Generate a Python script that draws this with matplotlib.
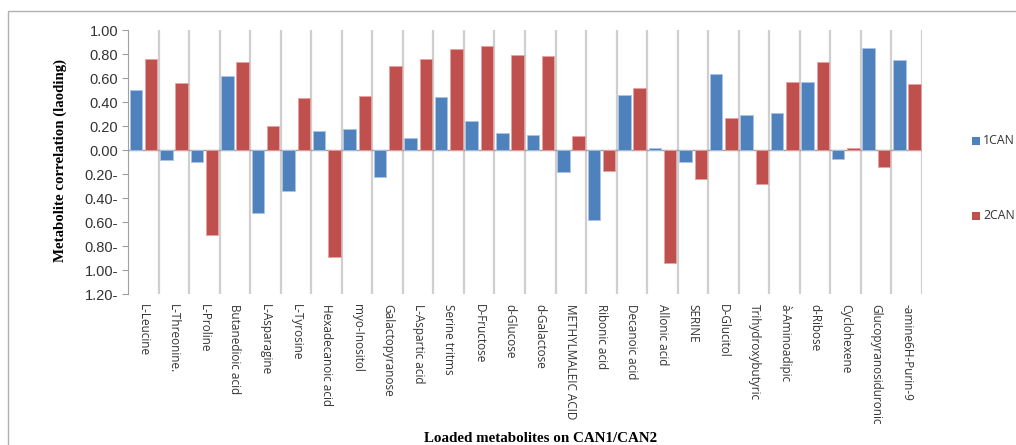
import matplotlib
matplotlib.use("Agg")
from matplotlib import pyplot as plt
from matplotlib.patches import Rectangle
import numpy as np

metabolites = ["L-Leucine", "L-Threonine.", "L-Proline", "Butanedioic acid", "L-Asparagine",
               "L-Tyrosine", "Hexadecanoic acid", "myo-Inositol", "Galactopyranose",
               "L-Aspartic acid", "Serine tritms", "D-Fructose", "d-Glucose", "d-Galactose",
               "METHYLMALEIC ACID", "Ribonic acid", "Decanoic acid", "Allonic acid", "SERINE",
               "D-Glucitol", "Trihydroxybutyric", "à-Aminoadipic", "d-Ribose", "Cyclohexene",
               "Glucopyranosiduronic", "-amine6H-Purin-9"]
can1 = [0.50, -0.08, -0.10, 0.62, -0.52, -0.34, 0.16, 0.18, -0.22, 0.10, 0.44, 0.24, 0.14,
        0.13, -0.18, -0.58, 0.46, 0.02, -0.10, 0.63, 0.29, 0.31, 0.57, -0.07, 0.85, 0.75]
can2 = [0.76, 0.56, -0.71, 0.73, 0.20, 0.43, -0.89, 0.45, 0.70, 0.76, 0.84, 0.87, 0.79,
        0.78, 0.12, -0.17, 0.52, -0.94, -0.24, 0.27, -0.28, 0.57, 0.73, 0.02, -0.14, 0.55]
yticks = [1.0, 0.8, 0.6, 0.4, 0.2, 0.0, -0.2, -0.4, -0.6, -0.8, -1.0, -1.2]

blue = "#4F81BD"
red = "#C0504D"

fig = plt.figure(figsize=(10.16, 4.45), dpi=100)
ax = fig.add_axes([0.126, 0.339, 0.7815, 0.5934])

x = np.arange(len(metabolites))
w = 0.41
ax.bar(x + 0.5 - 0.245, can1, w, color=blue, edgecolor="#a9c4e6", linewidth=0.6, label="1CAN", zorder=3)
ax.bar(x + 0.5 + 0.255, can2, w, color=red, edgecolor="#e6a3a1", linewidth=0.6, label="2CAN", zorder=3)

ax.set_xlim(0, len(metabolites))
ax.set_ylim(-1.2, 1.0)

# category separators
for b in range(1, len(metabolites) + 1):
    ax.axvline(b, color="#cfcfcf", linewidth=1.6, zorder=1)
ax.axhline(0, color="#a0a0a0", linewidth=1.0, zorder=2)

ax.set_xticks(x + 0.5)
ax.set_xticklabels(metabolites, rotation=-90, ha="center", va="top",
                   fontsize=8.5, family="Open Sans", color="#333333")
ax.tick_params(axis="x", length=0, pad=7)

ax.set_yticks(yticks)
ax.set_yticklabels([("%.2f" % v) if v >= 0 else ("%.2f-" % abs(v)) for v in yticks],
                   fontsize=10.5, family="Liberation Sans", color="#333333")
ax.tick_params(axis="y", direction="out", length=4, color="#a0a0a0", pad=3)

for s in ["top", "right", "bottom"]:
    ax.spines[s].set_visible(False)
ax.spines["left"].set_color("#a0a0a0")

fig.text(0.059, 0.64, "Metabolite correlation (laoding)", rotation=90, ha="center", va="center",
         fontsize=10.7, family="Liberation Serif", fontweight="bold")
fig.text(0.532, 0.014, "Loaded metabolites on CAN1/CAN2", ha="center", va="center",
         fontsize=10.8, family="Liberation Serif", fontweight="bold")

# legend
for yy, c, lab in [(141, blue, "1CAN"), (216, red, "2CAN")]:
    fig.patches.append(Rectangle((972 / 1016, 1 - (yy + 4) / 445), 8 / 1016, 8 / 445,
                                 transform=fig.transFigure, facecolor=c, edgecolor="none"))
    fig.text(983 / 1016, 1 - yy / 445, lab, ha="left", va="center", fontsize=8.8,
             family="Open Sans", color="#333333")

# outer chart border
fig.patches.append(Rectangle((8 / 1016, -0.05), 1.1, 1 - 11 / 445 + 0.05, transform=fig.transFigure,
                             facecolor="none", edgecolor="#b0b0b0", linewidth=1.0))

fig.savefig("out.png", dpi=100)
